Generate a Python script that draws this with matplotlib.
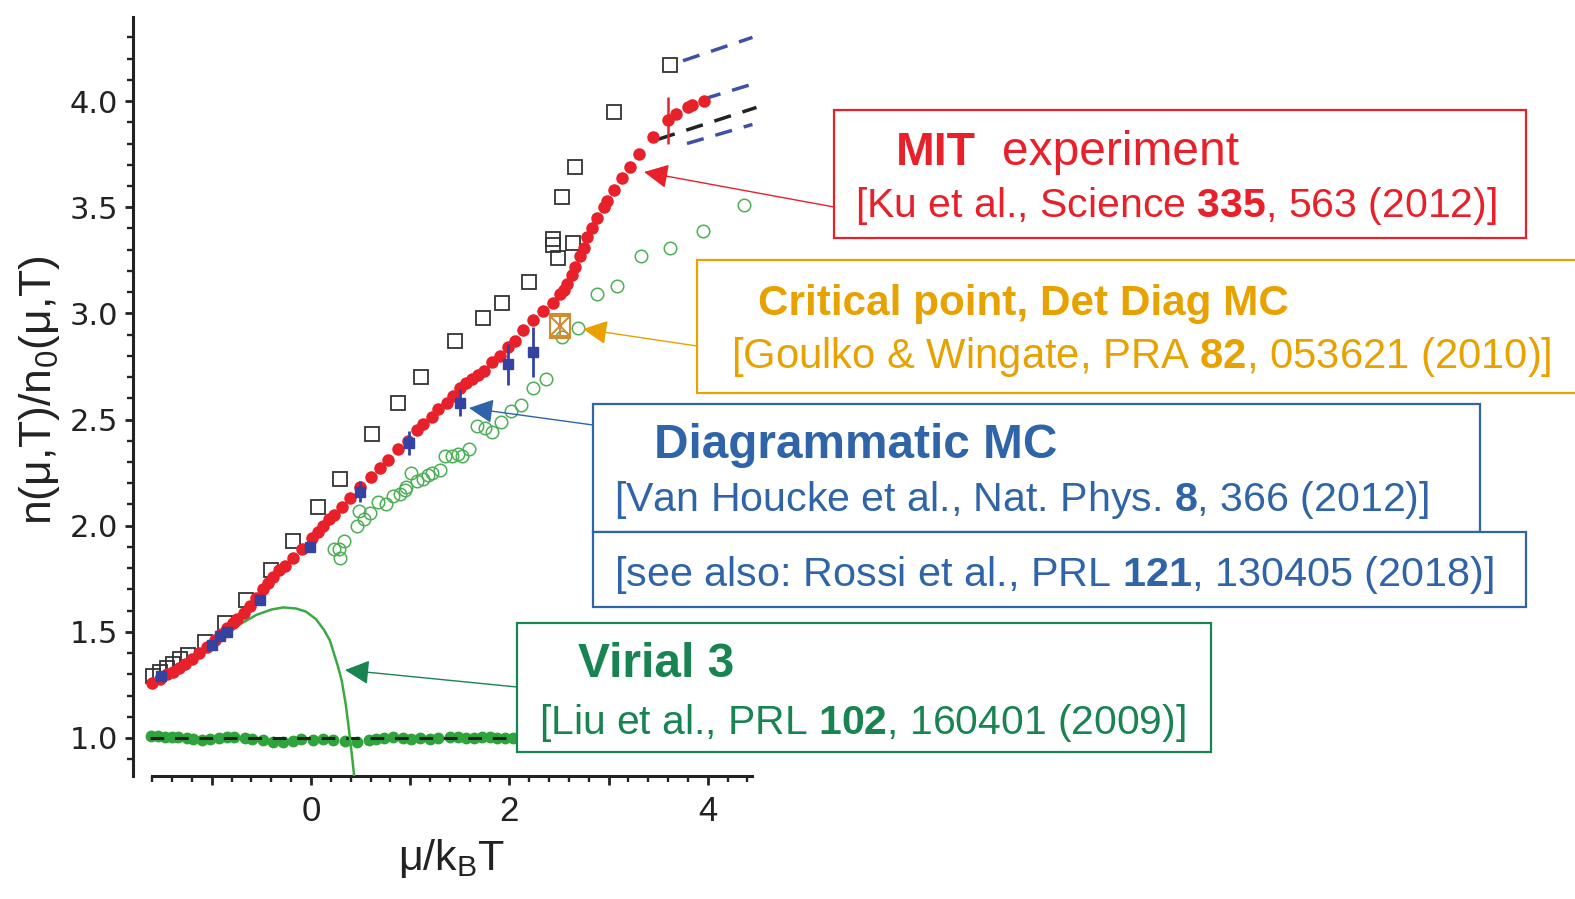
import matplotlib
matplotlib.use("Agg")
import matplotlib.pyplot as plt
from matplotlib.patches import Rectangle, FancyArrowPatch, ArrowStyle
from matplotlib.ticker import MultipleLocator, FixedLocator, FixedFormatter

W, H = 1575, 899
plt.rcParams['font.family'] = ['Liberation Sans', 'DejaVu Sans']
plt.rcParams['mathtext.fontset'] = 'custom'
plt.rcParams['mathtext.rm'] = 'Liberation Sans'
plt.rcParams['mathtext.bf'] = 'Liberation Sans:bold'
plt.rcParams['mathtext.it'] = 'Liberation Sans:italic'

# ---------------- data ----------------
# MIT experiment: n/n0 versus mu/kT
mit_mu = [-1.60, -1.52, -1.45, -1.39, -1.33, -1.27, -1.20, -1.13, -1.05, -0.97,
          -0.91, -0.85, -0.79, -0.75, -0.68, -0.61, -0.55, -0.48, -0.43, -0.38,
          -0.32, -0.26, -0.18, -0.09, 0.01, 0.07, 0.12, 0.18, 0.23, 0.31,
          0.39, 0.49, 0.61, 0.70, 0.78, 0.88, 0.98, 1.07, 1.13, 1.22,
          1.28, 1.37, 1.43, 1.50, 1.56, 1.62, 1.68, 1.74, 1.82, 1.91,
          1.99, 2.06, 2.14, 2.24, 2.34, 2.44, 2.51, 2.55, 2.58, 2.63,
          2.66, 2.71, 2.75, 2.78, 2.83, 2.88, 2.95, 2.98, 3.05, 3.14,
          3.22, 3.31, 3.45, 3.60, 3.68, 3.80, 3.84, 3.96]
mit_n = [1.26, 1.28, 1.30, 1.31, 1.33, 1.35, 1.37, 1.40, 1.43, 1.46,
         1.49, 1.52, 1.54, 1.56, 1.59, 1.62, 1.66, 1.70, 1.73, 1.76,
         1.79, 1.81, 1.85, 1.89, 1.94, 1.97, 2.00, 2.03, 2.05, 2.09,
         2.13, 2.18, 2.23, 2.27, 2.31, 2.36, 2.40, 2.45, 2.48, 2.51,
         2.55, 2.58, 2.61, 2.65, 2.67, 2.69, 2.71, 2.73, 2.77, 2.80,
         2.84, 2.87, 2.92, 2.97, 3.01, 3.05, 3.09, 3.11, 3.14, 3.18,
         3.22, 3.27, 3.31, 3.36, 3.40, 3.45, 3.50, 3.53, 3.58, 3.64,
         3.69, 3.75, 3.83, 3.91, 3.94, 3.97, 3.98, 4.00]
mit_err_mu = [3.60]
mit_err_n = [3.91]
mit_err = [0.11]

# Open squares (theory)
sq_mu = [-1.59, -1.52, -1.45, -1.39, -1.32, -1.24, -1.07, -0.87, -0.65, -0.40,
         -0.18, 0.07, 0.29, 0.62, 0.88, 1.11, 1.45, 1.73, 1.93, 2.20,
         2.44, 2.44, 2.49, 2.64, 2.53, 2.66, 3.05, 3.62]
sq_n = [1.29, 1.31, 1.33, 1.35, 1.37, 1.39, 1.45, 1.54, 1.65, 1.79,
        1.93, 2.09, 2.22, 2.43, 2.58, 2.70, 2.87, 2.98, 3.05, 3.15,
        3.35, 3.32, 3.26, 3.33, 3.55, 3.69, 3.95, 4.17]

# Diagrammatic MC (filled squares with error bars)
dmc_mu = [-1.51, -1.00, -0.92, -0.85, -0.51, -0.01, 0.49, 0.99, 1.50, 1.99, 2.24]
dmc_n = [1.29, 1.44, 1.48, 1.50, 1.65, 1.90, 2.16, 2.39, 2.58, 2.76, 2.82]
dmc_err = [0.02, 0.02, 0.02, 0.02, 0.02, 0.02, 0.05, 0.055, 0.063, 0.095, 0.118]

# Critical point, determinant diagrammatic MC
crit_mu = [2.51]
crit_n = [2.94]
crit_err = [0.055]

# Open circles (theory)
oc_mu = [0.23, 0.28, 0.29, 0.33, 0.46, 0.48, 0.53, 0.59, 0.68, 0.76,
         0.83, 0.90, 0.95, 0.96, 1.01, 1.07, 1.13, 1.18, 1.22, 1.30,
         1.35, 1.42, 1.48, 1.52, 1.59, 1.67, 1.75, 1.82, 1.92, 2.02,
         2.12, 2.24, 2.37, 2.53, 2.69, 2.88, 3.08, 3.33, 3.62, 3.95, 4.36]
oc_n = [1.89, 1.89, 1.85, 1.93, 2.00, 2.07, 2.03, 2.06, 2.11, 2.10,
        2.14, 2.15, 2.17, 2.18, 2.25, 2.21, 2.22, 2.24, 2.25, 2.26,
        2.33, 2.33, 2.34, 2.33, 2.36, 2.47, 2.46, 2.44, 2.49, 2.54,
        2.57, 2.65, 2.69, 2.89, 2.93, 3.09, 3.13, 3.27, 3.31, 3.39, 3.51]

# Filled circles along the ideal-gas reference n/n0 = 1
ref_mu = [-1.61, -1.54, -1.47, -1.40, -1.34, -1.25, -1.19, -1.10, -1.02, -0.93,
          -0.85, -0.78, -0.67, -0.59, -0.48, -0.38, -0.28, -0.18, -0.10, 0.02,
          0.12, 0.22, 0.34, 0.46, 0.58, 0.66, 0.74, 0.83, 0.93, 1.01,
          1.10, 1.20, 1.28, 1.40, 1.48, 1.56, 1.64, 1.72, 1.80, 1.88,
          1.96, 2.04]
ref_n = [1.009, 1.009, 1.006, 1.003, 1.003, 0.998, 0.994, 0.991, 0.994, 0.998,
         1.006, 1.006, 0.998, 0.995, 0.991, 0.983, 0.983, 0.987, 0.994, 0.991,
         0.994, 0.991, 0.986, 0.983, 0.991, 0.997, 1.002, 1.003, 0.998, 0.997,
         0.998, 0.997, 1.002, 1.006, 1.003, 1.000, 0.998, 1.003, 1.005, 0.998,
         0.998, 0.998]
ideal_mu = [-1.62, 2.10]
ideal_n = [1.0, 1.0]

# Third-order virial expansion
vir_mu = [-1.60, -1.40, -1.20, -1.00, -0.85, -0.70, -0.55, -0.40, -0.28, -0.15,
          -0.05, 0.05, 0.13, 0.19, 0.23, 0.27, 0.31, 0.35, 0.38, 0.41, 0.44]
vir_n = [1.26, 1.31, 1.37, 1.43, 1.49, 1.54, 1.58, 1.605, 1.615, 1.61,
         1.595, 1.56, 1.51, 1.46, 1.40, 1.34, 1.27, 1.16, 1.05, 0.93, 0.80]

# Extrapolated bounds at large mu
ext_upper_mu, ext_upper_n = [3.75, 4.45], [4.19, 4.30]
ext_mid_mu, ext_mid_n = [3.96, 4.45], [4.01, 4.08]
ext_center_mu, ext_center_n = [3.50, 4.49], [3.82, 3.97]
ext_lower_mu, ext_lower_n = [3.79, 4.45], [3.80, 3.89]

# ---------------- colours ----------------
RED = '#e8202a'
BLUE_PT = '#3442a2'
BLUE_TXT = '#2f64a8'
GREEN_TXT = '#188452'
GREEN_PT = '#2fa33c'
ORANGE_TXT = '#e8a200'
ORANGE_PT = '#d08c30'
DARK = '#222222'

fig = plt.figure(figsize=(W / 100, H / 100), dpi=100)


def fx(px):
    return px / W


def fy(py):
    return 1 - py / H


ax = fig.add_axes([fx(133), fy(776), (760 - 133) / W, (776 - 17) / H])
ax.set_xlim(-1.794, 4.526)
ax.set_ylim(0.821, 4.396)

DASH = (5, 3.5)

# reference line and points at n/n0 = 1
ax.plot(ref_mu, ref_n, 'o', color=GREEN_PT, ms=7.5, mec=GREEN_PT, zorder=2)
ax.plot(ideal_mu, ideal_n, '--', color=DARK, lw=2.2, dashes=(4.5, 3.5), zorder=3)

# open circles
ax.plot(oc_mu, oc_n, 'o', mfc='none', mec='#4caf55', ms=9, mew=1.1, zorder=2)
# open squares
ax.plot(sq_mu, sq_n, 's', mfc='none', mec='#333333', ms=10, mew=1.3, zorder=2)

# virial curve
ax.plot(vir_mu, vir_n, '-', color='#3aaa40', lw=1.8, zorder=3)

# extrapolations
ax.plot(ext_upper_mu, ext_upper_n, '--', color='#4050a8', lw=2.5, dashes=DASH, zorder=3)
ax.plot(ext_mid_mu, ext_mid_n, '--', color='#4050a8', lw=2.5, dashes=DASH, zorder=3)
ax.plot(ext_lower_mu, ext_lower_n, '--', color='#4050a8', lw=2.5, dashes=DASH, zorder=3)
ax.plot(ext_center_mu, ext_center_n, '--', color=DARK, lw=2.5, dashes=DASH, zorder=3)

# MIT data
ax.plot(mit_mu, mit_n, 'o', color=RED, ms=9, mec='none', zorder=4)
ax.errorbar(mit_err_mu, mit_err_n, yerr=mit_err, fmt='none', ecolor=RED, elinewidth=1.8, zorder=4)

# diagrammatic MC
ax.errorbar(dmc_mu, dmc_n, yerr=dmc_err, fmt='s', color=BLUE_PT, ms=7.5,
            ecolor=BLUE_PT, elinewidth=2, capsize=0, zorder=5)

# critical point
ax.errorbar(crit_mu, crit_n, yerr=crit_err, fmt='s', mfc='none', mec=ORANGE_PT, ms=14,
            mew=1.5, ecolor=ORANGE_PT, elinewidth=1.5, capsize=8, capthick=1.5, zorder=6)
ax.plot(crit_mu, crit_n, 'x', color=ORANGE_PT, ms=14, mew=1.5, zorder=6)

# axes styling
for s in ('top', 'right'):
    ax.spines[s].set_visible(False)
for s in ('left', 'bottom'):
    ax.spines[s].set_linewidth(2.2)
    ax.spines[s].set_color(DARK)
ax.spines['bottom'].set_bounds(-1.6, 4.45)

ax.xaxis.set_major_locator(FixedLocator([-1, 0, 1, 2, 3, 4]))
ax.xaxis.set_major_formatter(FixedFormatter(['', '0', '', '2', '', '4']))
ax.xaxis.set_minor_locator(MultipleLocator(0.2))
ax.yaxis.set_major_locator(MultipleLocator(0.5))
ax.yaxis.set_minor_locator(MultipleLocator(0.1))
ax.yaxis.set_major_formatter(plt.FormatStrFormatter('%.1f'))

ax.tick_params(axis='x', which='major', length=6.5, width=2, color=DARK,
               labelsize=25, labelcolor=DARK, pad=7)
ax.tick_params(axis='x', which='minor', length=4, width=1.7, color=DARK)
ax.tick_params(axis='y', which='major', length=5.5, width=2, color=DARK,
               labelsize=22, labelcolor=DARK, pad=5)
ax.tick_params(axis='y', which='minor', length=4, width=1.7, color=DARK)
for lab in ax.get_xticklabels():
    lab.set_family(['Liberation Sans Narrow', 'Liberation Sans'])
for lab in ax.get_yticklabels():
    lab.set_family(['DejaVu Sans'])

fig.text(fx(40), fy(390), r'n(μ,T)/$\mathregular{n_0}$(μ,T)', rotation=90,
         ha='center', va='center', fontsize=32, color=DARK,
         family=['Liberation Sans Narrow', 'Liberation Sans'])
fig.text(fx(452), fy(858), r'μ/$\mathregular{k_B}$T', ha='center', va='center',
         fontsize=31, color=DARK, family=['Liberation Sans Narrow', 'Liberation Sans'])


# ---------------- annotation boxes ----------------
def box(x0, y0, x1, y1, color):
    r = Rectangle((fx(x0), fy(y1)), fx(x1) - fx(x0), fy(y0) - fy(y1),
                  transform=fig.transFigure, facecolor='white', edgecolor=color,
                  linewidth=1.6, zorder=10)
    fig.add_artist(r)


def arrow(x0, y0, x1, y1, color):
    a = FancyArrowPatch((fx(x0), fy(y0)), (fx(x1), fy(y1)), transform=fig.transFigure,
                        arrowstyle=ArrowStyle('-|>', head_length=1.5, head_width=0.75),
                        mutation_scale=10, color=color, linewidth=1.0,
                        shrinkA=0, shrinkB=0, zorder=9)
    fig.add_artist(a)


def label(x, y, s, color, size, weight='normal'):
    fig.text(fx(x), fy(y), s, color=color, fontsize=size, fontweight=weight,
             ha='left', va='baseline', zorder=11)


# MIT experiment
box(834, 110, 1526, 238, RED)
arrow(834, 207, 644, 172, RED)
label(896, 165, 'MIT', RED, 33.5, 'bold')
label(1002, 165, 'experiment', RED, 34.5)
label(855, 217, r'[Ku et al., Science $\mathbf{335}$, 563 (2012)]', RED, 29.5)

# critical point
box(697, 260, 1600, 393, ORANGE_TXT)
arrow(697, 346, 583, 329, ORANGE_TXT)
label(758, 315, 'Critical point, Det Diag MC', ORANGE_TXT, 30.4, 'bold')
label(731, 368, r'[Goulko & Wingate, PRA $\mathbf{82}$, 053621 (2010)]', ORANGE_TXT, 30.1)

# diagrammatic MC
box(593, 404, 1480, 532, BLUE_TXT)
box(593, 532, 1526, 607, BLUE_TXT)
arrow(593, 425, 469, 408, BLUE_TXT)
label(654, 458, 'Diagrammatic MC', BLUE_TXT, 34.4, 'bold')
label(614, 511, r'[Van Houcke et al., Nat. Phys. $\mathbf{8}$, 366 (2012)]', BLUE_TXT, 29.6)
label(614, 586, r'[see also: Rossi et al., PRL $\mathbf{121}$, 130405 (2018)]', BLUE_TXT, 29.75)

# virial
box(517, 623, 1211, 752, GREEN_TXT)
arrow(517, 687, 345, 670, GREEN_TXT)
label(578, 677, 'Virial 3', GREEN_TXT, 34.5, 'bold')
label(539, 734, r'[Liu et al., PRL $\mathbf{102}$, 160401 (2009)]', GREEN_TXT, 29.4)

fig.savefig('out.png', dpi=100)
